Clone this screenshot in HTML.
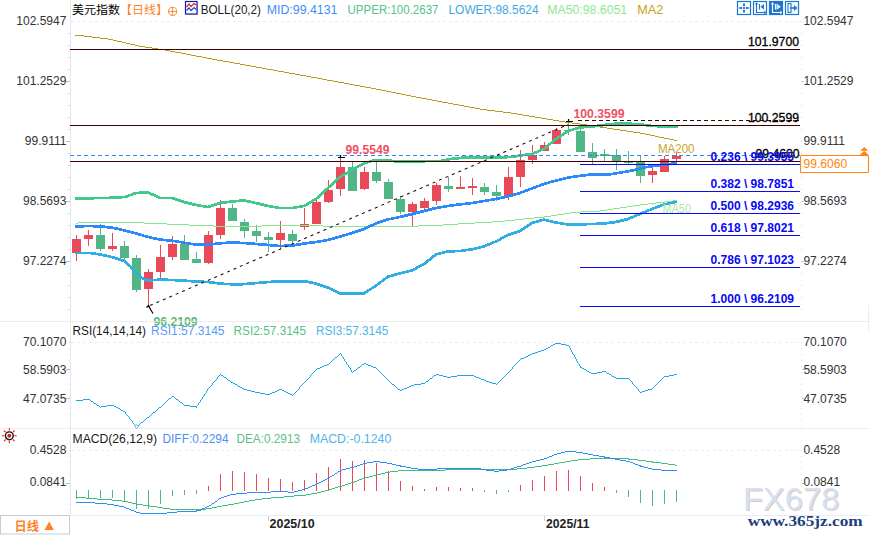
<!DOCTYPE html>
<html lang="zh-CN"><head><meta charset="utf-8"><title>美元指数 日线</title>
<style>html,body{margin:0;padding:0;background:#fff;}svg{display:block;}text{white-space:pre;}</style></head>
<body><svg width="870" height="535" viewBox="0 0 870 535" style="font-family:'Liberation Sans', 'Noto Sans CJK SC', sans-serif">
<rect width="870" height="535" fill="#fff"/>
<line x1="70.5" y1="0" x2="70.5" y2="515" stroke="#E1E8F0" stroke-width="1"/>
<line x1="801.5" y1="21" x2="801.5" y2="318" stroke="#CFD5DB" stroke-width="1" stroke-dasharray="1 11"/>
<line x1="801.5" y1="342" x2="801.5" y2="427" stroke="#D8DDE2" stroke-width="1" stroke-dasharray="1 5"/>
<line x1="801.5" y1="450" x2="801.5" y2="515" stroke="#D8DDE2" stroke-width="1" stroke-dasharray="1 5"/>
<line x1="868.5" y1="305" x2="868.5" y2="332" stroke="#E9EEF3" stroke-width="1"/>
<line x1="71" y1="21.5" x2="799" y2="21.5" stroke="#EAEEF2" stroke-width="1" stroke-dasharray="3 3"/>
<line x1="71" y1="342.5" x2="799" y2="342.5" stroke="#EAEEF2" stroke-width="1" stroke-dasharray="3 3"/>
<line x1="71" y1="450.5" x2="799" y2="450.5" stroke="#EAEEF2" stroke-width="1" stroke-dasharray="3 3"/>
<line x1="68" y1="33.5" x2="70" y2="33.5" stroke="#D5DCE3" stroke-width="1"/>
<line x1="68" y1="45.5" x2="70" y2="45.5" stroke="#D5DCE3" stroke-width="1"/>
<line x1="68" y1="57.5" x2="70" y2="57.5" stroke="#D5DCE3" stroke-width="1"/>
<line x1="68" y1="69.5" x2="70" y2="69.5" stroke="#D5DCE3" stroke-width="1"/>
<line x1="66" y1="81.5" x2="70" y2="81.5" stroke="#B8C0C8" stroke-width="1"/>
<line x1="802" y1="81.5" x2="804" y2="81.5" stroke="#B8C0C8" stroke-width="1"/>
<line x1="68" y1="93.5" x2="70" y2="93.5" stroke="#D5DCE3" stroke-width="1"/>
<line x1="68" y1="105.5" x2="70" y2="105.5" stroke="#D5DCE3" stroke-width="1"/>
<line x1="68" y1="117.5" x2="70" y2="117.5" stroke="#D5DCE3" stroke-width="1"/>
<line x1="68" y1="129.5" x2="70" y2="129.5" stroke="#D5DCE3" stroke-width="1"/>
<line x1="66" y1="141.5" x2="70" y2="141.5" stroke="#B8C0C8" stroke-width="1"/>
<line x1="68" y1="153.5" x2="70" y2="153.5" stroke="#D5DCE3" stroke-width="1"/>
<line x1="68" y1="165.5" x2="70" y2="165.5" stroke="#D5DCE3" stroke-width="1"/>
<line x1="68" y1="177.5" x2="70" y2="177.5" stroke="#D5DCE3" stroke-width="1"/>
<line x1="68" y1="189.5" x2="70" y2="189.5" stroke="#D5DCE3" stroke-width="1"/>
<line x1="66" y1="201.5" x2="70" y2="201.5" stroke="#B8C0C8" stroke-width="1"/>
<line x1="802" y1="201.5" x2="804" y2="201.5" stroke="#B8C0C8" stroke-width="1"/>
<line x1="68" y1="213.5" x2="70" y2="213.5" stroke="#D5DCE3" stroke-width="1"/>
<line x1="68" y1="225.5" x2="70" y2="225.5" stroke="#D5DCE3" stroke-width="1"/>
<line x1="68" y1="237.5" x2="70" y2="237.5" stroke="#D5DCE3" stroke-width="1"/>
<line x1="68" y1="249.5" x2="70" y2="249.5" stroke="#D5DCE3" stroke-width="1"/>
<line x1="66" y1="261.5" x2="70" y2="261.5" stroke="#B8C0C8" stroke-width="1"/>
<line x1="802" y1="261.5" x2="804" y2="261.5" stroke="#B8C0C8" stroke-width="1"/>
<line x1="68" y1="273.5" x2="70" y2="273.5" stroke="#D5DCE3" stroke-width="1"/>
<line x1="68" y1="285.5" x2="70" y2="285.5" stroke="#D5DCE3" stroke-width="1"/>
<line x1="68" y1="297.5" x2="70" y2="297.5" stroke="#D5DCE3" stroke-width="1"/>
<line x1="68" y1="309.5" x2="70" y2="309.5" stroke="#D5DCE3" stroke-width="1"/>
<line x1="66" y1="369.5" x2="70" y2="369.5" stroke="#B8C0C8" stroke-width="1"/>
<line x1="802" y1="369.5" x2="804" y2="369.5" stroke="#B8C0C8" stroke-width="1"/>
<line x1="66" y1="398.5" x2="70" y2="398.5" stroke="#B8C0C8" stroke-width="1"/>
<line x1="802" y1="398.5" x2="804" y2="398.5" stroke="#B8C0C8" stroke-width="1"/>
<line x1="66" y1="483.5" x2="70" y2="483.5" stroke="#B8C0C8" stroke-width="1"/>
<line x1="802" y1="483.5" x2="804" y2="483.5" stroke="#B8C0C8" stroke-width="1"/>
<line x1="69.3" y1="342" x2="69.3" y2="427" stroke="#E2E7EC" stroke-width="1.5" stroke-dasharray="1 5"/>
<line x1="69.3" y1="450" x2="69.3" y2="514" stroke="#E2E7EC" stroke-width="1.5" stroke-dasharray="1 5"/>
<rect x="76" y="235" width="1" height="26" fill="#E84A5A"/>
<rect x="72" y="239" width="9" height="14" fill="#E84A5A"/>
<rect x="88" y="230" width="1" height="16" fill="#E84A5A"/>
<rect x="84" y="235" width="9" height="4" fill="#E84A5A"/>
<rect x="100" y="224" width="1" height="27" fill="#52B585"/>
<rect x="96" y="235" width="9" height="14" fill="#52B585"/>
<rect x="112" y="233" width="1" height="18" fill="#E84A5A"/>
<rect x="108" y="246" width="9" height="3" fill="#E84A5A"/>
<rect x="124" y="241" width="1" height="19" fill="#52B585"/>
<rect x="120" y="246" width="9" height="12" fill="#52B585"/>
<rect x="136" y="255" width="1" height="37" fill="#52B585"/>
<rect x="132" y="258" width="9" height="32" fill="#52B585"/>
<rect x="148" y="269" width="1" height="36" fill="#E84A5A"/>
<rect x="144" y="272" width="9" height="17" fill="#E84A5A"/>
<rect x="160" y="245" width="1" height="33" fill="#E84A5A"/>
<rect x="156" y="257" width="9" height="15" fill="#E84A5A"/>
<rect x="172" y="236" width="1" height="24" fill="#E84A5A"/>
<rect x="168" y="244" width="9" height="13" fill="#E84A5A"/>
<rect x="184" y="235" width="1" height="25" fill="#52B585"/>
<rect x="180" y="244" width="9" height="16" fill="#52B585"/>
<rect x="196" y="252" width="1" height="11" fill="#52B585"/>
<rect x="192" y="259" width="9" height="4" fill="#52B585"/>
<rect x="208" y="231" width="1" height="33" fill="#E84A5A"/>
<rect x="204" y="235" width="9" height="28" fill="#E84A5A"/>
<rect x="220" y="200" width="1" height="39" fill="#E84A5A"/>
<rect x="216" y="208" width="9" height="27" fill="#E84A5A"/>
<rect x="232" y="204" width="1" height="17" fill="#52B585"/>
<rect x="228" y="208" width="9" height="13" fill="#52B585"/>
<rect x="244" y="219" width="1" height="19" fill="#52B585"/>
<rect x="240" y="222" width="9" height="9" fill="#52B585"/>
<rect x="256" y="225" width="1" height="17" fill="#52B585"/>
<rect x="252" y="231" width="9" height="5" fill="#52B585"/>
<rect x="268" y="232" width="1" height="20" fill="#52B585"/>
<rect x="264" y="237" width="9" height="3" fill="#52B585"/>
<rect x="280" y="221" width="1" height="28" fill="#E84A5A"/>
<rect x="276" y="233" width="9" height="7" fill="#E84A5A"/>
<rect x="292" y="230" width="1" height="15" fill="#52B585"/>
<rect x="288" y="234" width="9" height="7" fill="#52B585"/>
<rect x="304" y="208" width="1" height="22" fill="#E84A5A"/>
<rect x="300" y="224" width="9" height="3" fill="#E84A5A"/>
<rect x="316" y="198" width="1" height="26" fill="#E84A5A"/>
<rect x="312" y="202" width="9" height="22" fill="#E84A5A"/>
<rect x="328" y="180" width="1" height="23" fill="#E84A5A"/>
<rect x="324" y="190" width="9" height="12" fill="#E84A5A"/>
<rect x="340" y="156" width="1" height="40" fill="#E84A5A"/>
<rect x="336" y="167" width="9" height="22" fill="#E84A5A"/>
<rect x="352" y="162" width="1" height="29" fill="#52B585"/>
<rect x="348" y="167" width="9" height="24" fill="#52B585"/>
<rect x="364" y="167" width="1" height="23" fill="#E84A5A"/>
<rect x="360" y="172" width="9" height="17" fill="#E84A5A"/>
<rect x="376" y="162" width="1" height="21" fill="#52B585"/>
<rect x="372" y="172" width="9" height="9" fill="#52B585"/>
<rect x="388" y="179" width="1" height="20" fill="#52B585"/>
<rect x="384" y="182" width="9" height="17" fill="#52B585"/>
<rect x="400" y="196" width="1" height="18" fill="#52B585"/>
<rect x="396" y="199" width="9" height="13" fill="#52B585"/>
<rect x="412" y="202" width="1" height="24" fill="#E84A5A"/>
<rect x="408" y="204" width="9" height="8" fill="#E84A5A"/>
<rect x="424" y="198" width="1" height="12" fill="#E84A5A"/>
<rect x="420" y="201" width="9" height="7" fill="#E84A5A"/>
<rect x="436" y="183" width="1" height="22" fill="#E84A5A"/>
<rect x="432" y="185" width="9" height="16" fill="#E84A5A"/>
<rect x="448" y="177" width="1" height="15" fill="#52B585"/>
<rect x="444" y="186" width="9" height="3" fill="#52B585"/>
<rect x="460" y="176" width="1" height="13" fill="#E84A5A"/>
<rect x="456" y="187" width="9" height="2" fill="#E84A5A"/>
<rect x="472" y="178" width="1" height="17" fill="#E84A5A"/>
<rect x="468" y="186" width="9" height="2" fill="#E84A5A"/>
<rect x="484" y="183" width="1" height="12" fill="#52B585"/>
<rect x="480" y="187" width="9" height="5" fill="#52B585"/>
<rect x="496" y="185" width="1" height="16" fill="#52B585"/>
<rect x="492" y="192" width="9" height="4" fill="#52B585"/>
<rect x="508" y="167" width="1" height="33" fill="#E84A5A"/>
<rect x="504" y="177" width="9" height="19" fill="#E84A5A"/>
<rect x="520" y="150" width="1" height="37" fill="#E84A5A"/>
<rect x="516" y="160" width="9" height="17" fill="#E84A5A"/>
<rect x="532" y="145" width="1" height="19" fill="#E84A5A"/>
<rect x="528" y="155" width="9" height="5" fill="#E84A5A"/>
<rect x="544" y="142" width="1" height="9" fill="#E84A5A"/>
<rect x="540" y="145" width="9" height="6" fill="#E84A5A"/>
<rect x="556" y="128" width="1" height="16" fill="#E84A5A"/>
<rect x="552" y="130" width="9" height="14" fill="#E84A5A"/>
<rect x="568" y="121" width="1" height="14" fill="#52B585"/>
<rect x="564" y="130" width="9" height="1" fill="#52B585"/>
<rect x="580" y="127" width="1" height="25" fill="#52B585"/>
<rect x="576" y="131" width="9" height="21" fill="#52B585"/>
<rect x="592" y="143" width="1" height="21" fill="#52B585"/>
<rect x="588" y="152" width="9" height="6" fill="#52B585"/>
<rect x="604" y="149" width="1" height="12" fill="#52B585"/>
<rect x="600" y="154" width="9" height="2" fill="#52B585"/>
<rect x="616" y="149" width="1" height="21" fill="#52B585"/>
<rect x="612" y="155" width="9" height="6" fill="#52B585"/>
<rect x="628" y="151" width="1" height="13" fill="#52B585"/>
<rect x="624" y="162" width="9" height="1" fill="#52B585"/>
<rect x="640" y="156" width="1" height="27" fill="#52B585"/>
<rect x="636" y="162" width="9" height="14" fill="#52B585"/>
<rect x="652" y="165" width="1" height="18" fill="#E84A5A"/>
<rect x="648" y="171" width="9" height="4" fill="#E84A5A"/>
<rect x="664" y="156" width="1" height="16" fill="#E84A5A"/>
<rect x="660" y="159" width="9" height="13" fill="#E84A5A"/>
<rect x="676" y="153" width="1" height="10" fill="#E84A5A"/>
<rect x="672" y="156" width="9" height="3" fill="#E84A5A"/>
<path d="M75 35.5h9M84 36.5h8M92 37.5h8M100 38.5h8M108 39.5h5M113 40.5h4M117 41.5h5M122 42.5h4M126 43.5h4M130 44.5h5M135 45.5h4M139 46.5h6M145 47.5h7M152 48.5h6M158 49.5h7M165 50.5h5M170 51.5h5M175 52.5h6M181 53.5h5M186 54.5h5M191 55.5h5M196 56.5h6M202 57.5h5M207 58.5h5M212 59.5h5M217 60.5h6M223 61.5h6M229 62.5h5M234 63.5h6M240 64.5h5M245 65.5h6M251 66.5h5M256 67.5h6M262 68.5h5M267 69.5h6M273 70.5h5M278 71.5h6M284 72.5h5M289 73.5h6M295 74.5h5M300 75.5h6M306 76.5h5M311 77.5h6M317 78.5h5M322 79.5h5M327 80.5h6M333 81.5h5M338 82.5h6M344 83.5h5M349 84.5h5M354 85.5h6M360 86.5h5M365 87.5h6M371 88.5h5M376 89.5h5M381 90.5h5M386 91.5h5M391 92.5h5M396 93.5h5M401 94.5h5M406 95.5h5M411 96.5h5M416 97.5h5M421 98.5h6M427 99.5h5M432 100.5h5M437 101.5h5M442 102.5h6M448 103.5h5M453 104.5h6M459 105.5h5M464 106.5h5M469 107.5h6M475 108.5h5M480 109.5h7M487 110.5h8M495 111.5h8M503 112.5h8M511 113.5h6M517 114.5h6M523 115.5h6M529 116.5h6M535 117.5h6M541 118.5h6M547 119.5h6M553 120.5h6M559 121.5h6M565 122.5h7M572 123.5h8M580 124.5h7M587 125.5h6M593 126.5h7M600 127.5h7M607 128.5h6M613 129.5h7M620 130.5h7M627 131.5h6M633 132.5h7M640 133.5h5M645 134.5h5M650 135.5h5M655 136.5h4M659 137.5h5M664 138.5h5M669 139.5h5M674 140.5h3" stroke="#BA9A18" stroke-width="1" fill="none" shape-rendering="crispEdges"/>
<path d="M76 223.5h2M78 222.5h66M144 223.5h23M167 224.5h22M189 225.5h25M214 226.5h48M262 225.5h61M323 226.5h95M418 225.5h25M443 224.5h15M458 223.5h17M475 222.5h17M492 221.5h13M505 220.5h10M515 219.5h9M524 218.5h10M534 217.5h10M544 216.5h7M551 215.5h6M557 214.5h7M564 213.5h6M570 212.5h11M581 211.5h19M600 210.5h7M607 209.5h6M613 208.5h7M620 207.5h7M627 206.5h6M633 205.5h7M640 204.5h8M648 203.5h8M656 202.5h9M665 201.5h8M673 200.5h4" stroke="#84E884" stroke-width="1" fill="none" shape-rendering="crispEdges"/>
<polyline points="76.0,198.4 106.0,198.0 125.0,197.0 136.0,193.0 148.0,192.4 160.0,198.0 172.0,198.0 184.0,202.0 196.0,205.0 208.0,207.0 220.0,203.0 232.0,201.5 244.0,200.4 256.0,203.0 268.0,206.0 280.0,208.0 292.0,208.0 304.0,206.0 316.0,199.0 328.0,188.0 340.0,177.0 352.0,169.8 364.0,163.4 372.0,160.8 376.0,160.4 388.0,160.4 396.0,161.4 400.0,161.4 440.0,161.0 452.0,158.8 464.0,157.6 476.0,157.4 488.0,157.4 500.0,157.4 512.0,157.0 520.0,155.6 532.0,154.0 544.0,149.0 556.0,139.0 568.0,131.0 580.0,127.4 592.0,126.6 604.0,125.0 616.0,123.6 628.0,123.6 640.0,124.4 652.0,126.0 664.0,126.4 677.0,126.4" fill="none" stroke="#42C88A" stroke-width="2.7" shape-rendering="crispEdges" stroke-linejoin="round" stroke-linecap="round"/>
<polyline points="76.0,226.5 88.0,226.0 100.0,226.4 112.0,227.6 124.0,230.3 136.0,233.4 148.0,237.0 160.0,239.6 172.0,240.7 184.0,242.7 196.0,244.6 208.0,244.8 220.0,243.3 232.0,242.4 250.0,243.4 268.0,245.0 280.0,246.0 292.0,245.6 304.0,243.6 316.0,242.0 328.0,240.0 340.0,236.6 352.0,233.0 364.0,229.0 376.0,223.4 388.0,219.4 400.0,217.0 412.0,214.0 424.0,211.0 436.0,208.0 448.0,206.0 460.0,204.4 472.0,203.0 484.0,201.0 496.0,199.0 508.0,196.4 520.0,193.0 532.0,188.4 544.0,184.0 556.0,180.5 568.0,177.6 580.0,175.9 592.0,174.4 604.0,174.3 610.0,174.3 622.0,172.4 634.0,170.1 646.0,167.2 660.0,165.2 676.0,163.3" fill="none" stroke="#2D88F8" stroke-width="2.7" shape-rendering="crispEdges" stroke-linejoin="round" stroke-linecap="round"/>
<polyline points="76.0,253.0 90.0,253.0 100.0,254.4 112.0,257.0 124.0,261.0 130.0,266.0 136.0,273.0 142.0,278.0 148.0,280.6 160.0,279.6 172.0,280.0 184.0,280.6 196.0,281.6 208.0,282.0 220.0,283.6 234.0,284.4 238.0,284.6 262.0,282.6 276.0,281.4 306.0,281.4 316.0,283.6 328.0,287.6 340.0,293.4 364.0,293.4 376.0,285.6 388.0,276.6 400.0,273.4 412.0,270.4 424.0,264.0 436.0,254.4 448.0,251.4 460.0,251.0 472.0,249.4 484.0,246.4 496.0,241.4 508.0,235.0 520.0,231.0 532.0,223.0 544.0,219.6 556.0,222.6 568.0,224.4 580.0,224.4 592.0,224.0 604.0,223.6 616.0,222.0 628.0,219.0 640.0,214.0 652.0,209.0 664.0,204.4 676.0,202.0" fill="none" stroke="#30AEE4" stroke-width="2.7" shape-rendering="crispEdges" stroke-linejoin="round" stroke-linecap="round"/>
<line x1="70" y1="155.5" x2="800" y2="155.5" stroke="#2B8CF0" stroke-width="1.2" stroke-dasharray="4 3"/>
<line x1="70" y1="49.5" x2="800" y2="49.5" stroke="#400000" stroke-width="1.2"/>
<line x1="70" y1="125.5" x2="800" y2="125.5" stroke="#400000" stroke-width="1.2"/>
<line x1="70" y1="161.5" x2="800" y2="161.5" stroke="#400000" stroke-width="1.2"/>
<line x1="580" y1="164.5" x2="800" y2="164.5" stroke="#0A0AF5" stroke-width="1.1"/>
<line x1="580" y1="191.5" x2="800" y2="191.5" stroke="#0A0AF5" stroke-width="1.1"/>
<line x1="580" y1="213.5" x2="800" y2="213.5" stroke="#0A0AF5" stroke-width="1.1"/>
<line x1="580" y1="235.5" x2="800" y2="235.5" stroke="#0A0AF5" stroke-width="1.1"/>
<line x1="580" y1="267.5" x2="800" y2="267.5" stroke="#0A0AF5" stroke-width="1.1"/>
<line x1="580" y1="306.5" x2="800" y2="306.5" stroke="#0A0AF5" stroke-width="1.1"/>
<line x1="150" y1="305.5" x2="568" y2="124.5" stroke="#280404" stroke-width="1.05" stroke-dasharray="3 4"/>
<line x1="578" y1="120.5" x2="800" y2="120.5" stroke="#300808" stroke-width="1.2" stroke-dasharray="4 3"/>
<path d="M566 121.5H573M568.5 119V122" stroke="#000" stroke-width="1.2" fill="none"/>
<path d="M338 157.5H345M340.5 155V158" stroke="#000" stroke-width="1.2" fill="none"/>
<path d="M153 313.5L148.5 306M146.5 307.5L148.5 305.5L150 308" stroke="#000" stroke-width="1.2" fill="none"/>
<text x="573.5" y="117.5" font-size="12" fill="#F05062" font-weight="bold" text-anchor="start" font-family='"Liberation Sans", "Noto Sans CJK SC", sans-serif' textLength="51" lengthAdjust="spacingAndGlyphs">100.3599</text>
<text x="345.5" y="154" font-size="12" fill="#F05062" font-weight="bold" text-anchor="start" font-family='"Liberation Sans", "Noto Sans CJK SC", sans-serif' textLength="44" lengthAdjust="spacingAndGlyphs">99.5549</text>
<text x="658" y="153" font-size="12" fill="#C9A42C" font-weight="normal" text-anchor="start" font-family='"Liberation Sans", "Noto Sans CJK SC", sans-serif' textLength="36.5" lengthAdjust="spacingAndGlyphs">MA200</text>
<text x="662.5" y="213" font-size="12" fill="#A8E8A8" font-weight="normal" text-anchor="start" font-family='"Liberation Sans", "Noto Sans CJK SC", sans-serif' textLength="28.5" lengthAdjust="spacingAndGlyphs">MA50</text>
<text x="799" y="46" font-size="12" fill="#000" font-weight="normal" text-anchor="end" font-family='"Liberation Sans", "Noto Sans CJK SC", sans-serif' textLength="51" lengthAdjust="spacingAndGlyphs" stroke="#000" stroke-width="0.3">101.9700</text>
<text x="799" y="121.5" font-size="12" fill="#000" font-weight="normal" text-anchor="end" font-family='"Liberation Sans", "Noto Sans CJK SC", sans-serif' textLength="51" lengthAdjust="spacingAndGlyphs" stroke="#000" stroke-width="0.3">100.2599</text>
<text x="799.5" y="158" font-size="12" fill="#000" font-weight="normal" text-anchor="end" font-family='"Liberation Sans", "Noto Sans CJK SC", sans-serif' textLength="44" lengthAdjust="spacingAndGlyphs" stroke="#000" stroke-width="0.3">99.4600</text>
<text x="710.5" y="161.29999999999998" font-size="12.4" fill="#0808F8" font-weight="bold" text-anchor="start" font-family='"Liberation Sans", "Noto Sans CJK SC", sans-serif' textLength="83.5" lengthAdjust="spacingAndGlyphs">0.236 \ 99.3955</text>
<text x="710.5" y="188.1" font-size="12.4" fill="#0808F8" font-weight="bold" text-anchor="start" font-family='"Liberation Sans", "Noto Sans CJK SC", sans-serif' textLength="83.5" lengthAdjust="spacingAndGlyphs">0.382 \ 98.7851</text>
<text x="710.5" y="210.1" font-size="12.4" fill="#0808F8" font-weight="bold" text-anchor="start" font-family='"Liberation Sans", "Noto Sans CJK SC", sans-serif' textLength="83.5" lengthAdjust="spacingAndGlyphs">0.500 \ 98.2936</text>
<text x="710.5" y="231.89999999999998" font-size="12.4" fill="#0808F8" font-weight="bold" text-anchor="start" font-family='"Liberation Sans", "Noto Sans CJK SC", sans-serif' textLength="83.5" lengthAdjust="spacingAndGlyphs">0.618 \ 97.8021</text>
<text x="710.5" y="264.09999999999997" font-size="12.4" fill="#0808F8" font-weight="bold" text-anchor="start" font-family='"Liberation Sans", "Noto Sans CJK SC", sans-serif' textLength="83.5" lengthAdjust="spacingAndGlyphs">0.786 \ 97.1023</text>
<text x="710.5" y="303.09999999999997" font-size="12.4" fill="#0808F8" font-weight="bold" text-anchor="start" font-family='"Liberation Sans", "Noto Sans CJK SC", sans-serif' textLength="83.5" lengthAdjust="spacingAndGlyphs">1.000 \ 96.2109</text>
<text x="66.4" y="24.8" font-size="12" fill="#333333" font-weight="normal" text-anchor="end" font-family='"Liberation Sans", "Noto Sans CJK SC", sans-serif'>102.5947</text>
<text x="803.4" y="24.8" font-size="12" fill="#333333" font-weight="normal" text-anchor="start" font-family='"Liberation Sans", "Noto Sans CJK SC", sans-serif'>102.5947</text>
<text x="66.4" y="85.3" font-size="12" fill="#333333" font-weight="normal" text-anchor="end" font-family='"Liberation Sans", "Noto Sans CJK SC", sans-serif'>101.2529</text>
<text x="803.4" y="85.3" font-size="12" fill="#333333" font-weight="normal" text-anchor="start" font-family='"Liberation Sans", "Noto Sans CJK SC", sans-serif'>101.2529</text>
<text x="66.4" y="145.3" font-size="12" fill="#333333" font-weight="normal" text-anchor="end" font-family='"Liberation Sans", "Noto Sans CJK SC", sans-serif'>99.9111</text>
<text x="803.4" y="145.3" font-size="12" fill="#333333" font-weight="normal" text-anchor="start" font-family='"Liberation Sans", "Noto Sans CJK SC", sans-serif'>99.9111</text>
<text x="66.4" y="205.3" font-size="12" fill="#333333" font-weight="normal" text-anchor="end" font-family='"Liberation Sans", "Noto Sans CJK SC", sans-serif'>98.5693</text>
<text x="803.4" y="205.3" font-size="12" fill="#333333" font-weight="normal" text-anchor="start" font-family='"Liberation Sans", "Noto Sans CJK SC", sans-serif'>98.5693</text>
<text x="66.4" y="265.3" font-size="12" fill="#333333" font-weight="normal" text-anchor="end" font-family='"Liberation Sans", "Noto Sans CJK SC", sans-serif'>97.2274</text>
<text x="803.4" y="265.3" font-size="12" fill="#333333" font-weight="normal" text-anchor="start" font-family='"Liberation Sans", "Noto Sans CJK SC", sans-serif'>97.2274</text>
<text x="66.4" y="346.0" font-size="12" fill="#333333" font-weight="normal" text-anchor="end" font-family='"Liberation Sans", "Noto Sans CJK SC", sans-serif'>70.1070</text>
<text x="803.4" y="346.0" font-size="12" fill="#333333" font-weight="normal" text-anchor="start" font-family='"Liberation Sans", "Noto Sans CJK SC", sans-serif'>70.1070</text>
<text x="66.4" y="374.2" font-size="12" fill="#333333" font-weight="normal" text-anchor="end" font-family='"Liberation Sans", "Noto Sans CJK SC", sans-serif'>58.5903</text>
<text x="803.4" y="374.2" font-size="12" fill="#333333" font-weight="normal" text-anchor="start" font-family='"Liberation Sans", "Noto Sans CJK SC", sans-serif'>58.5903</text>
<text x="66.4" y="403.40000000000003" font-size="12" fill="#333333" font-weight="normal" text-anchor="end" font-family='"Liberation Sans", "Noto Sans CJK SC", sans-serif'>47.0735</text>
<text x="803.4" y="403.40000000000003" font-size="12" fill="#333333" font-weight="normal" text-anchor="start" font-family='"Liberation Sans", "Noto Sans CJK SC", sans-serif'>47.0735</text>
<text x="66.4" y="454.3" font-size="12" fill="#333333" font-weight="normal" text-anchor="end" font-family='"Liberation Sans", "Noto Sans CJK SC", sans-serif'>0.4528</text>
<text x="803.4" y="454.3" font-size="12" fill="#333333" font-weight="normal" text-anchor="start" font-family='"Liberation Sans", "Noto Sans CJK SC", sans-serif'>0.4528</text>
<text x="66.4" y="486.3" font-size="12" fill="#333333" font-weight="normal" text-anchor="end" font-family='"Liberation Sans", "Noto Sans CJK SC", sans-serif'>0.0841</text>
<text x="803.4" y="486.3" font-size="12" fill="#333333" font-weight="normal" text-anchor="start" font-family='"Liberation Sans", "Noto Sans CJK SC", sans-serif'>0.0841</text>
<rect x="800.5" y="155.5" width="68" height="17" rx="1" fill="#fff" stroke="#FF8410" stroke-width="1.1"/>
<text x="803.5" y="168" font-size="12" fill="#FF8410" font-weight="normal" text-anchor="start" font-family='"Liberation Sans", "Noto Sans CJK SC", sans-serif' textLength="43.6" lengthAdjust="spacingAndGlyphs">99.6060</text>
<path d="M860.2 150.8L864.2 147L868.2 150.8Z M859.6 155.2L864.2 150.8L868.9 155.2Z" fill="#FF8410"/>
<text x="72" y="14.3" font-size="11.5" fill="#000" font-weight="normal" text-anchor="start" font-family='"Liberation Sans", "Noto Sans CJK SC", sans-serif' textLength="48" lengthAdjust="spacingAndGlyphs">美元指数</text>
<text x="120" y="14.3" font-size="11.5" fill="#FF7F27" font-weight="normal" text-anchor="start" font-family='"Liberation Sans", "Noto Sans CJK SC", sans-serif' textLength="48" lengthAdjust="spacingAndGlyphs">【日线】</text>
<circle cx="172.6" cy="11.4" r="4.1" fill="none" stroke="#FF8A3C" stroke-width="1"/><path d="M168.5 11.4H176.7M172.6 7.3V15.5" stroke="#FF8A3C" stroke-width="1" fill="none"/>
<rect x="186" y="2" width="12" height="13" fill="#9AA" opacity="0.6"/>
<rect x="185.5" y="1.5" width="11.5" height="12.5" fill="#fff" stroke="#1818B0" stroke-width="1.2"/>
<polyline points="186.5,7 189,4 191,6.5 194,3.5 196,5" fill="none" stroke="#E02020" stroke-width="1.2"/>
<polyline points="186.5,10.5 189,8 191,10.5 194,7.5 196,9.5" fill="none" stroke="#2040E0" stroke-width="1.2"/>
<text x="200.7" y="13.6" font-size="12" fill="#1A1A1A" font-weight="normal" text-anchor="start" font-family='"Liberation Sans", "Noto Sans CJK SC", sans-serif' textLength="60.3" lengthAdjust="spacingAndGlyphs">BOLL(20,2)</text>
<text x="266.7" y="13.6" font-size="12" fill="#3F8CFA" font-weight="normal" text-anchor="start" font-family='"Liberation Sans", "Noto Sans CJK SC", sans-serif' textLength="70.8" lengthAdjust="spacingAndGlyphs">MID:99.4131</text>
<text x="347.5" y="13.6" font-size="12" fill="#52C48C" font-weight="normal" text-anchor="start" font-family='"Liberation Sans", "Noto Sans CJK SC", sans-serif' textLength="91" lengthAdjust="spacingAndGlyphs">UPPER:100.2637</text>
<text x="448.5" y="13.6" font-size="12" fill="#40A9E0" font-weight="normal" text-anchor="start" font-family='"Liberation Sans", "Noto Sans CJK SC", sans-serif' textLength="90" lengthAdjust="spacingAndGlyphs">LOWER:98.5624</text>
<text x="547.2" y="13.6" font-size="12" fill="#8CE890" font-weight="normal" text-anchor="start" font-family='"Liberation Sans", "Noto Sans CJK SC", sans-serif' textLength="80" lengthAdjust="spacingAndGlyphs">MA50:98.6051</text>
<text x="637.2" y="13.6" font-size="12" fill="#C8A020" font-weight="normal" text-anchor="start" font-family='"Liberation Sans", "Noto Sans CJK SC", sans-serif' textLength="26" lengthAdjust="spacingAndGlyphs">MA2</text>
<rect x="737.5" y="1.5" width="13" height="13" fill="#fff" stroke="#1B76D2" stroke-width="1.2"/>
<path d="M739.5 8H742M746 8H748.5M744 3.5V6M744 10V12.5" stroke="#1B76D2" stroke-width="2" fill="none"/><rect x="743" y="7" width="2" height="2" fill="#1B76D2"/>
<rect x="753.5" y="1.5" width="13" height="13" fill="#fff" stroke="#1B76D2" stroke-width="1.2"/>
<path d="M756.5 3V12.5H765.5M759.5 4V9.5" stroke="#1B76D2" stroke-width="1.2" fill="none"/><path d="M764 4V9.5L760.5 6.75Z" fill="#1B76D2"/><path d="M755 4.5L756.5 2.5L758 4.5M764 11L766 12.5L764 14" stroke="#1B76D2" stroke-width="0.8" fill="none"/>
<rect x="769.5" y="1.5" width="13" height="13" fill="#1B76D2" stroke="#1B76D2" stroke-width="1.2"/>
<path d="M772.5 3V12.5H781.5M775.5 4V9.5" stroke="#fff" stroke-width="1.2" fill="none"/><path d="M776.5 3.5V10L781 6.75Z" fill="#DCEBFA"/><path d="M771 4.5L772.5 2.5L774 4.5M780 11L782 12.5L780 14" stroke="#fff" stroke-width="0.8" fill="none"/>
<rect x="785.5" y="1.5" width="13" height="13" fill="#fff" stroke="#1B76D2" stroke-width="1.2"/>
<rect x="788" y="3.5" width="3" height="9" fill="none" stroke="#1B76D2" stroke-width="1.1"/><path d="M790 8H795" stroke="#1B76D2" stroke-width="1.6"/><path d="M794 5V11L797.5 8Z" fill="#1B76D2"/>
<line x1="0" y1="321.5" x2="870" y2="321.5" stroke="#E9EEF3" stroke-width="1"/>
<line x1="0" y1="428.5" x2="870" y2="428.5" stroke="#E9EEF3" stroke-width="1"/>
<line x1="0" y1="515.5" x2="870" y2="515.5" stroke="#E9EEF3" stroke-width="1"/>
<text x="153.5" y="326" font-size="12" fill="#5CB87A" font-weight="bold" text-anchor="start" font-family='"Liberation Sans", "Noto Sans CJK SC", sans-serif' textLength="44" lengthAdjust="spacingAndGlyphs">96.2109</text>
<line x1="152" y1="321.5" x2="199" y2="321.5" stroke="#fff" stroke-width="1.3" opacity="0.5"/>
<text x="72.5" y="334.8" font-size="12" fill="#1A1A1A" font-weight="normal" text-anchor="start" font-family='"Liberation Sans", "Noto Sans CJK SC", sans-serif' textLength="73.5" lengthAdjust="spacingAndGlyphs">RSI(14,14,14)</text>
<text x="151" y="334.8" font-size="12" fill="#5B9BF8" font-weight="normal" text-anchor="start" font-family='"Liberation Sans", "Noto Sans CJK SC", sans-serif' textLength="73.5" lengthAdjust="spacingAndGlyphs">RSI1:57.3145</text>
<text x="233.5" y="334.8" font-size="12" fill="#5CC08A" font-weight="normal" text-anchor="start" font-family='"Liberation Sans", "Noto Sans CJK SC", sans-serif' textLength="72.5" lengthAdjust="spacingAndGlyphs">RSI2:57.3145</text>
<text x="316" y="334.8" font-size="12" fill="#4FB3E8" font-weight="normal" text-anchor="start" font-family='"Liberation Sans", "Noto Sans CJK SC", sans-serif' textLength="72.3" lengthAdjust="spacingAndGlyphs">RSI3:57.3145</text>
<path d="M555 343.5h6M553 344.5h2M561 344.5h5M551 345.5h2M566 345.5h3M550 346.5h1M569 346.5h1M548 347.5h2M569 347.5h1M546 348.5h2M570 348.5h1M544 349.5h2M570 349.5h1M541 350.5h3M571 350.5h1M538 351.5h3M571 351.5h1M535 352.5h3M572 352.5h1M340 353.5h1M532 353.5h3M572 353.5h1M339 354.5h1M341 354.5h1M530 354.5h2M573 354.5h1M338 355.5h1M341 355.5h1M528 355.5h2M574 355.5h1M337 356.5h1M342 356.5h1M526 356.5h2M574 356.5h1M335 357.5h2M343 357.5h1M524 357.5h2M575 357.5h1M334 358.5h1M343 358.5h1M521 358.5h3M575 358.5h1M333 359.5h1M344 359.5h1M520 359.5h1M576 359.5h1M332 360.5h1M344 360.5h1M519 360.5h1M576 360.5h1M331 361.5h1M345 361.5h1M518 361.5h1M577 361.5h1M330 362.5h1M346 362.5h1M517 362.5h1M577 362.5h1M329 363.5h1M346 363.5h1M364 363.5h2M516 363.5h1M578 363.5h1M327 364.5h2M347 364.5h1M362 364.5h2M366 364.5h2M515 364.5h1M579 364.5h1M324 365.5h3M348 365.5h1M361 365.5h1M368 365.5h3M514 365.5h1M579 365.5h1M322 366.5h2M348 366.5h1M360 366.5h1M371 366.5h2M513 366.5h1M580 366.5h1M320 367.5h2M349 367.5h1M358 367.5h2M373 367.5h3M512 367.5h1M580 367.5h2M317 368.5h3M350 368.5h1M357 368.5h1M376 368.5h1M512 368.5h1M582 368.5h2M316 369.5h1M350 369.5h1M356 369.5h1M377 369.5h1M511 369.5h1M584 369.5h2M315 370.5h1M351 370.5h1M354 370.5h2M378 370.5h1M510 370.5h1M586 370.5h1M314 371.5h1M351 371.5h1M353 371.5h1M379 371.5h1M509 371.5h1M587 371.5h2M602 371.5h4M313 372.5h1M352 372.5h1M380 372.5h1M508 372.5h1M589 372.5h2M597 372.5h5M606 372.5h1M312 373.5h1M381 373.5h1M507 373.5h1M591 373.5h6M607 373.5h2M220 374.5h1M311 374.5h1M382 374.5h1M436 374.5h3M506 374.5h1M609 374.5h2M674 374.5h3M219 375.5h1M221 375.5h2M310 375.5h1M383 375.5h1M434 375.5h2M439 375.5h4M457 375.5h17M505 375.5h1M611 375.5h1M669 375.5h5M218 376.5h1M223 376.5h1M310 376.5h1M384 376.5h1M433 376.5h1M443 376.5h4M451 376.5h6M474 376.5h2M504 376.5h1M612 376.5h2M664 376.5h5M217 377.5h1M224 377.5h2M309 377.5h1M385 377.5h1M432 377.5h1M447 377.5h4M476 377.5h3M503 377.5h1M614 377.5h2M663 377.5h1M217 378.5h1M226 378.5h1M308 378.5h1M386 378.5h1M430 378.5h2M479 378.5h2M502 378.5h1M616 378.5h13M662 378.5h1M216 379.5h1M227 379.5h1M307 379.5h1M387 379.5h1M429 379.5h1M481 379.5h3M501 379.5h1M629 379.5h1M661 379.5h1M215 380.5h1M228 380.5h2M306 380.5h1M388 380.5h1M428 380.5h1M484 380.5h2M500 380.5h1M630 380.5h1M660 380.5h1M214 381.5h1M230 381.5h1M305 381.5h1M389 381.5h1M426 381.5h2M486 381.5h3M499 381.5h1M631 381.5h1M659 381.5h1M213 382.5h1M231 382.5h2M304 382.5h1M390 382.5h1M425 382.5h1M489 382.5h3M498 382.5h1M632 382.5h1M658 382.5h1M212 383.5h1M233 383.5h2M303 383.5h1M391 383.5h1M421 383.5h4M492 383.5h4M497 383.5h1M632 383.5h1M657 383.5h1M212 384.5h1M235 384.5h2M302 384.5h1M392 384.5h2M414 384.5h7M496 384.5h1M633 384.5h1M656 384.5h1M211 385.5h1M237 385.5h1M301 385.5h1M394 385.5h1M411 385.5h3M634 385.5h1M655 385.5h1M210 386.5h1M238 386.5h2M300 386.5h1M395 386.5h1M409 386.5h2M635 386.5h1M654 386.5h1M209 387.5h1M240 387.5h2M299 387.5h1M396 387.5h1M407 387.5h2M636 387.5h1M653 387.5h1M208 388.5h1M242 388.5h2M299 388.5h1M397 388.5h1M404 388.5h3M637 388.5h1M652 388.5h1M207 389.5h1M244 389.5h3M279 389.5h3M298 389.5h1M398 389.5h2M402 389.5h2M638 389.5h1M648 389.5h4M207 390.5h1M247 390.5h4M277 390.5h2M282 390.5h2M297 390.5h1M400 390.5h2M638 390.5h1M645 390.5h3M206 391.5h1M251 391.5h4M275 391.5h2M284 391.5h2M296 391.5h1M639 391.5h1M642 391.5h3M206 392.5h1M255 392.5h5M272 392.5h3M286 392.5h2M295 392.5h1M640 392.5h2M205 393.5h1M260 393.5h5M270 393.5h2M288 393.5h2M294 393.5h1M204 394.5h1M265 394.5h5M290 394.5h2M293 394.5h1M204 395.5h1M292 395.5h1M172 396.5h2M203 396.5h1M171 397.5h1M174 397.5h1M202 397.5h1M169 398.5h2M175 398.5h1M202 398.5h1M83 399.5h7M168 399.5h1M176 399.5h2M201 399.5h1M76 400.5h7M90 400.5h1M167 400.5h1M178 400.5h1M200 400.5h1M91 401.5h2M166 401.5h1M179 401.5h1M200 401.5h1M93 402.5h1M165 402.5h1M180 402.5h2M199 402.5h1M94 403.5h2M164 403.5h1M182 403.5h1M198 403.5h1M96 404.5h1M163 404.5h1M183 404.5h1M198 404.5h1M97 405.5h2M107 405.5h7M162 405.5h1M184 405.5h6M197 405.5h1M99 406.5h1M101 406.5h6M114 406.5h2M161 406.5h1M190 406.5h7M100 407.5h1M116 407.5h2M159 407.5h2M196 407.5h1M118 408.5h2M158 408.5h1M120 409.5h1M157 409.5h1M121 410.5h2M156 410.5h1M123 411.5h2M155 411.5h1M125 412.5h1M153 412.5h2M125 413.5h1M152 413.5h1M126 414.5h1M151 414.5h1M127 415.5h1M150 415.5h1M128 416.5h1M149 416.5h1M129 417.5h1M147 417.5h2M129 418.5h1M146 418.5h1M130 419.5h1M145 419.5h1M131 420.5h1M144 420.5h1M132 421.5h1M143 421.5h1M132 422.5h1M141 422.5h2M133 423.5h1M140 423.5h1M134 424.5h1M139 424.5h1M135 425.5h1M138 425.5h1M136 426.5h2M136 427.5h1" stroke="#1EA8E2" stroke-width="1" fill="none" shape-rendering="crispEdges"/>
<path d="M136.5 424.5L138.5 426.5L136.5 428.5L134.5 426.5Z" fill="#fff" stroke="#1EA8E2" stroke-width="0.8"/>
<text x="72.5" y="443" font-size="12" fill="#1A1A1A" font-weight="normal" text-anchor="start" font-family='"Liberation Sans", "Noto Sans CJK SC", sans-serif' textLength="84.5" lengthAdjust="spacingAndGlyphs">MACD(26,12,9)</text>
<text x="162.5" y="443" font-size="12" fill="#4D8FF5" font-weight="normal" text-anchor="start" font-family='"Liberation Sans", "Noto Sans CJK SC", sans-serif' textLength="66" lengthAdjust="spacingAndGlyphs">DIFF:0.2294</text>
<text x="236.5" y="443" font-size="12" fill="#5CC08A" font-weight="normal" text-anchor="start" font-family='"Liberation Sans", "Noto Sans CJK SC", sans-serif' textLength="63.5" lengthAdjust="spacingAndGlyphs">DEA:0.2913</text>
<text x="309.7" y="443" font-size="12" fill="#4FB3E8" font-weight="normal" text-anchor="start" font-family='"Liberation Sans", "Noto Sans CJK SC", sans-serif' textLength="81.6" lengthAdjust="spacingAndGlyphs">MACD:-0.1240</text>
<rect x="76" y="490" width="1" height="9" fill="#52B585"/>
<rect x="88" y="490" width="1" height="8" fill="#52B585"/>
<rect x="100" y="490" width="1" height="8" fill="#52B585"/>
<rect x="112" y="490" width="1" height="8" fill="#52B585"/>
<rect x="124" y="490" width="1" height="11" fill="#52B585"/>
<rect x="136" y="490" width="1" height="19" fill="#52B585"/>
<rect x="148" y="490" width="1" height="19" fill="#52B585"/>
<rect x="160" y="490" width="1" height="14" fill="#52B585"/>
<rect x="172" y="490" width="1" height="6" fill="#52B585"/>
<rect x="184" y="490" width="1" height="5" fill="#52B585"/>
<rect x="196" y="490" width="1" height="4" fill="#52B585"/>
<rect x="208" y="486" width="1" height="5" fill="#E84A5A"/>
<rect x="220" y="474" width="1" height="17" fill="#E84A5A"/>
<rect x="232" y="471" width="1" height="20" fill="#E84A5A"/>
<rect x="244" y="472" width="1" height="19" fill="#E84A5A"/>
<rect x="256" y="474" width="1" height="17" fill="#E84A5A"/>
<rect x="268" y="478" width="1" height="13" fill="#E84A5A"/>
<rect x="280" y="479" width="1" height="12" fill="#E84A5A"/>
<rect x="292" y="482" width="1" height="9" fill="#E84A5A"/>
<rect x="304" y="480" width="1" height="11" fill="#E84A5A"/>
<rect x="316" y="473" width="1" height="18" fill="#E84A5A"/>
<rect x="328" y="467" width="1" height="24" fill="#E84A5A"/>
<rect x="340" y="459" width="1" height="32" fill="#E84A5A"/>
<rect x="352" y="461" width="1" height="30" fill="#E84A5A"/>
<rect x="364" y="460" width="1" height="31" fill="#E84A5A"/>
<rect x="376" y="463" width="1" height="28" fill="#E84A5A"/>
<rect x="388" y="471" width="1" height="20" fill="#E84A5A"/>
<rect x="400" y="481" width="1" height="10" fill="#E84A5A"/>
<rect x="412" y="486" width="1" height="5" fill="#E84A5A"/>
<rect x="424" y="489" width="1" height="2" fill="#E84A5A"/>
<rect x="436" y="487" width="1" height="4" fill="#E84A5A"/>
<rect x="448" y="487" width="1" height="4" fill="#E84A5A"/>
<rect x="460" y="488" width="1" height="3" fill="#E84A5A"/>
<rect x="472" y="488" width="1" height="3" fill="#E84A5A"/>
<rect x="484" y="490" width="1" height="2" fill="#52B585"/>
<rect x="496" y="490" width="1" height="4" fill="#52B585"/>
<rect x="508" y="490" width="1" height="2" fill="#52B585"/>
<rect x="520" y="485" width="1" height="6" fill="#E84A5A"/>
<rect x="532" y="480" width="1" height="11" fill="#E84A5A"/>
<rect x="544" y="476" width="1" height="15" fill="#E84A5A"/>
<rect x="556" y="471" width="1" height="20" fill="#E84A5A"/>
<rect x="568" y="470" width="1" height="21" fill="#E84A5A"/>
<rect x="580" y="476" width="1" height="15" fill="#E84A5A"/>
<rect x="592" y="483" width="1" height="8" fill="#E84A5A"/>
<rect x="604" y="487" width="1" height="4" fill="#E84A5A"/>
<rect x="616" y="490" width="1" height="3" fill="#52B585"/>
<rect x="628" y="490" width="1" height="7" fill="#52B585"/>
<rect x="640" y="490" width="1" height="13" fill="#52B585"/>
<rect x="652" y="490" width="1" height="16" fill="#52B585"/>
<rect x="664" y="490" width="1" height="14" fill="#52B585"/>
<rect x="676" y="490" width="1" height="12" fill="#52B585"/>
<path d="M590 458.5h39M578 459.5h12M628 459.5h10M571 460.5h7M638 460.5h8M565 461.5h6M646 461.5h7M559 462.5h6M652 462.5h9M554 463.5h5M661 463.5h7M548 464.5h6M668 464.5h7M542 465.5h6M675 465.5h2M535 466.5h7M527 467.5h8M517 468.5h10M445 469.5h72M398 470.5h47M390 471.5h8M385 472.5h5M381 473.5h4M376 474.5h5M373 475.5h3M369 476.5h4M365 477.5h4M362 478.5h3M359 479.5h3M357 480.5h2M354 481.5h3M351 482.5h3M348 483.5h3M345 484.5h3M342 485.5h3M338 486.5h4M335 487.5h3M332 488.5h3M329 489.5h3M325 490.5h4M321 491.5h4M317 492.5h4M311 493.5h6M306 494.5h5M294 495.5h12M284 496.5h10M76 497.5h10M271 497.5h13M86 498.5h11M262 498.5h9M97 499.5h15M255 499.5h7M112 500.5h10M249 500.5h6M122 501.5h6M244 501.5h5M128 502.5h4M239 502.5h5M132 503.5h5M234 503.5h5M137 504.5h6M228 504.5h6M143 505.5h7M222 505.5h6M150 506.5h7M217 506.5h5M157 507.5h6M212 507.5h5M163 508.5h7M206 508.5h6M170 509.5h36M196 510.5h1" stroke="#3DBE7D" stroke-width="1" fill="none" shape-rendering="crispEdges"/>
<path d="M565 451.5h11M561 452.5h4M576 452.5h7M557 453.5h4M583 453.5h5M554 454.5h3M588 454.5h5M552 455.5h2M593 455.5h6M549 456.5h3M599 456.5h6M547 457.5h2M604 457.5h6M544 458.5h3M610 458.5h5M540 459.5h4M615 459.5h5M536 460.5h4M620 460.5h6M373 461.5h7M532 461.5h4M626 461.5h4M367 462.5h6M380 462.5h7M529 462.5h3M630 462.5h3M363 463.5h4M387 463.5h5M526 463.5h3M633 463.5h2M360 464.5h3M392 464.5h4M523 464.5h3M635 464.5h3M357 465.5h3M396 465.5h5M521 465.5h2M638 465.5h3M354 466.5h3M400 466.5h6M517 466.5h4M640 466.5h4M350 467.5h4M406 467.5h5M514 467.5h3M644 467.5h4M346 468.5h4M411 468.5h7M437 468.5h44M511 468.5h3M648 468.5h4M342 469.5h4M418 469.5h19M481 469.5h5M507 469.5h4M652 469.5h9M340 470.5h2M486 470.5h8M499 470.5h8M661 470.5h16M338 471.5h2M494 471.5h5M337 472.5h1M335 473.5h2M334 474.5h1M332 475.5h2M330 476.5h2M329 477.5h1M327 478.5h2M325 479.5h2M323 480.5h2M321 481.5h2M319 482.5h2M317 483.5h2M315 484.5h2M312 485.5h3M310 486.5h2M308 487.5h2M305 488.5h3M302 489.5h3M298 490.5h4M271 491.5h17M294 491.5h4M247 492.5h24M288 492.5h6M236 493.5h11M230 494.5h6M227 495.5h3M224 496.5h3M221 497.5h3M219 498.5h2M218 499.5h1M217 500.5h1M215 501.5h2M76 502.5h19M214 502.5h1M95 503.5h12M212 503.5h2M107 504.5h7M211 504.5h1M114 505.5h5M209 505.5h2M119 506.5h5M207 506.5h2M124 507.5h2M205 507.5h2M126 508.5h3M202 508.5h3M129 509.5h2M200 509.5h2M131 510.5h3M197 510.5h4M134 511.5h2M177 511.5h20M136 512.5h4M167 512.5h10M140 513.5h27" stroke="#2D8CF5" stroke-width="1" fill="none" shape-rendering="crispEdges"/>
<g stroke="#F01818" stroke-width="1.1" fill="none"><path d="M9.3 428.3V430.6M9.3 440.9V443.2M1.9 435.8H4.2M14.4 435.8H16.7M4 430.5L5.6 432.1M13 439.5L14.6 441.1M14.6 430.5L13 432.1M5.6 439.5L4 441.1"/></g>
<circle cx="9.3" cy="435.8" r="3.9" fill="#fff" stroke="#111" stroke-width="1.4"/><circle cx="9.3" cy="435.8" r="2" fill="#F01818"/>
<rect x="0.5" y="515.5" width="69" height="18.5" fill="#fff" stroke="#C6CCD4" stroke-width="1"/>
<text x="14.5" y="531" font-size="12.5" fill="#FF7F27" font-weight="bold" text-anchor="start" font-family='"Liberation Sans", "Noto Sans CJK SC", sans-serif' textLength="24.5" lengthAdjust="spacingAndGlyphs">日线</text>
<path d="M44.5 530L49.2 521.5L53.8 530Z" fill="#FF7F27"/>
<line x1="268.5" y1="516" x2="268.5" y2="521" stroke="#C8D0D8" stroke-width="1"/>
<line x1="544.5" y1="516" x2="544.5" y2="521" stroke="#C8D0D8" stroke-width="1"/>
<text x="269.6" y="527.8" font-size="12" fill="#222" font-weight="bold" text-anchor="start" font-family='"Liberation Sans", "Noto Sans CJK SC", sans-serif' textLength="45" lengthAdjust="spacingAndGlyphs">2025/10</text>
<text x="546" y="527.8" font-size="12" fill="#222" font-weight="bold" text-anchor="start" font-family='"Liberation Sans", "Noto Sans CJK SC", sans-serif' textLength="43.5" lengthAdjust="spacingAndGlyphs">2025/11</text>
<text x="742.9" y="510.2" font-size="31" fill="#D3E2F4" font-family='"Liberation Sans", "Noto Sans CJK SC", sans-serif' textLength="96.5" lengthAdjust="spacingAndGlyphs" style="filter:drop-shadow(1.1px 1.1px 0 #E0C8B8)">FX678</text>
<text x="747.7" y="525.5" font-size="14.5" fill="#1C3F7C" font-weight="bold" font-family='"Liberation Serif", serif' textLength="115" lengthAdjust="spacingAndGlyphs">www.365jz.com</text>
</svg></body></html>
